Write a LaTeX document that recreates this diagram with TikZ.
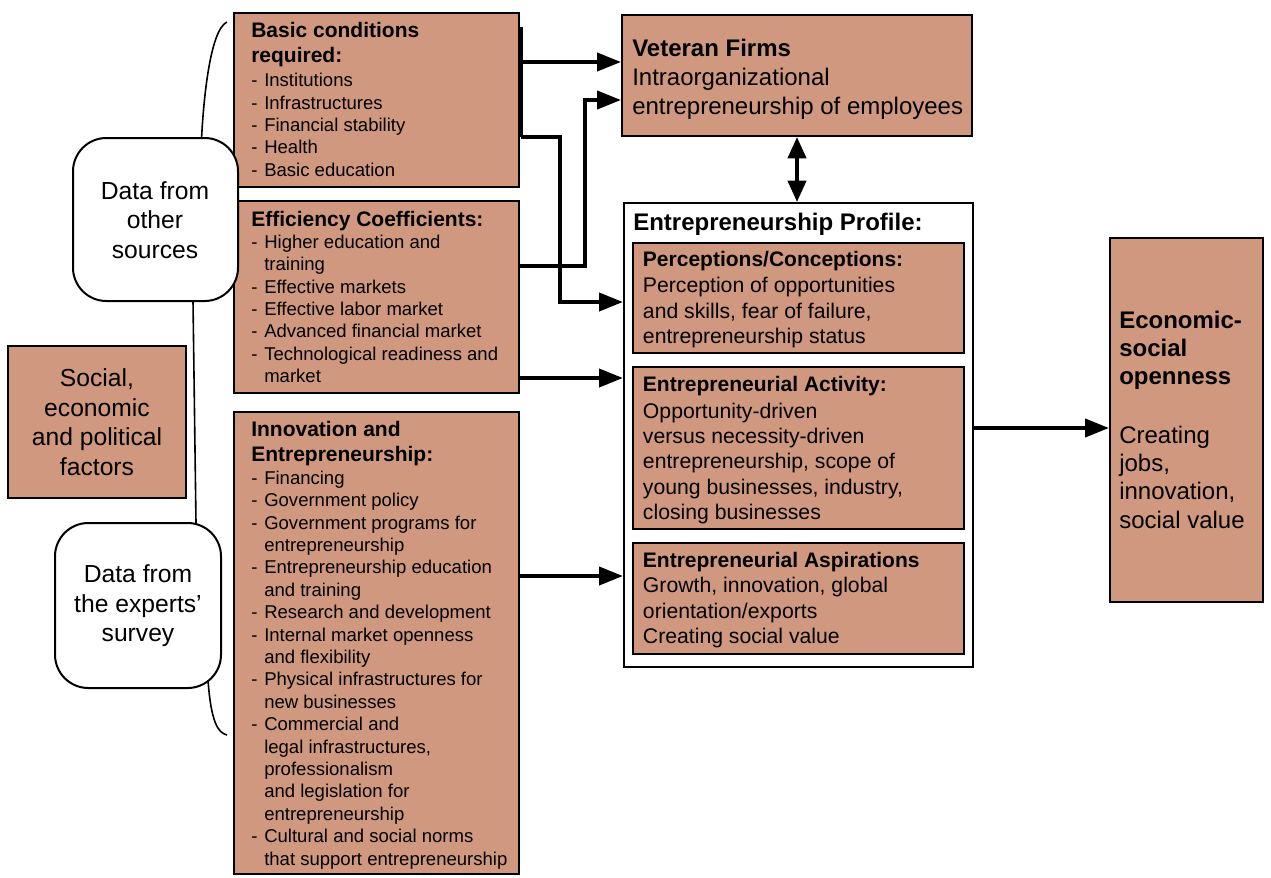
\documentclass[tikz,border=0pt]{standalone}
\usepackage{fontspec}
\setmainfont{Liberation Sans}
\usetikzlibrary{arrows.meta,fit}
\definecolor{boxfill}{RGB}{208,152,126}
\newcommand\myitem{\makebox[9.75pt][l]{-}}
\newcommand\mycont{\makebox[9.75pt]{}}
\newcommand\fSm{\fontsize{13.9}{16.8}\selectfont}
\newcommand\fHd{\fontsize{15.75}{18.75}\selectfont\bfseries}
\newcommand\fMd{\fontsize{15.9}{19}\selectfont}
\newcommand\fBg{\fontsize{18}{21.75}\selectfont}
\newcommand\fEc{\fontsize{18}{21.2}\selectfont}
\newcommand\fLg{\fontsize{18.5}{22.1}\selectfont}
\begin{document}
\begin{tikzpicture}[x=0.75pt,y=-0.75pt,
  box/.style={draw=black, line width=1.5pt, fill=boxfill, inner sep=0pt},
  wbox/.style={draw=black, line width=1.5pt, fill=white, inner sep=0pt},
  rbox/.style={draw=black, line width=1.5pt, fill=white, rounded corners=25pt, inner sep=0pt},
  txt/.style={anchor=base west, inner sep=0pt, align=left},
  ctxt/.style={inner sep=0pt, align=center, font=\fLg},
  conn/.style={line width=3pt},
  arr/.style={line width=3pt, -{Triangle[length=18pt,width=13.5pt]}},
  darr/.style={line width=3pt, {Triangle[length=16pt,width=13.5pt]}-{Triangle[length=16pt,width=13.5pt]}},
  brace/.style={line width=1.2pt}
]
\useasboundingbox (0,0) rectangle (1271,878);

% bracket curve (drawn first, covered by the rounded boxes)
\draw[brace] (227,22) .. controls (210,30) and (203,100) .. (201,150) -- (193,301) -- (196,523) -- (208,680) .. controls (211,722) and (218,733) .. (227,735);

% boxes
\node[box, fit={(234,13) (519,187)}] (basic) {};
\node[box, fit={(234,201) (519,393)}] (eff) {};
\node[box, fit={(234,412) (519,874)}] (innov) {};
\node[box, fit={(622,15) (972,136)}] (vet) {};
\node[wbox, fit={(624,203) (973,667)}] (prof) {};
\node[box, fit={(633,243) (964,353)}] (perc) {};
\node[box, fit={(633,367) (964,529)}] (act) {};
\node[box, fit={(633,543) (964,654)}] (asp) {};
\node[box, fit={(1110,238) (1263,602)}] (econ) {};
\node[box, fit={(8,346) (186,498)}] (social) {};
\node[rbox, fit={(73,138) (238,301)}] (other) {};
\node[rbox, fit={(55,523) (221,688)}] (expert) {};

% texts of left column
\node[ctxt] (otherT) at (155,220) {Data from\\other\\sources};
\node[ctxt] (expertT) at (138,606) {Data from\\the experts’\\survey};
\node[ctxt] (socialT) at (97,422) {Social,\\economic\\and political\\factors};

% (text nodes are placed at the baseline of their LAST line)
% basic conditions
\node[txt, font=\fHd] (basicH) at (251,62.3) {Basic conditions\\required:};
\node[txt, font=\fSm] (basicT) at (251,176.3) {\myitem Institutions\\\myitem Infrastructures\\\myitem Financial stability\\\myitem Health\\\myitem Basic education};

% efficiency
\node[txt, font=\fHd] (effH) at (251,226) {Efficiency Coefficients:};
\node[txt, font=\fSm] (effT) at (251,382.7) {\myitem Higher education and\\\mycont training\\\myitem Effective markets\\\myitem Effective labor market\\\myitem Advanced financial market\\\myitem Technological readiness and\\\mycont market};

% innovation
\node[txt, font=\fHd] (innovH) at (251,461) {Innovation and\\Entrepreneurship:};
\node[txt, font=\fSm] (innovT) at (251,865.1) {\myitem Financing\\\myitem Government policy\\\myitem Government programs for\\\mycont entrepreneurship\\\myitem Entrepreneurship education\\\mycont and training\\\myitem Research and development\\\myitem Internal market openness\\\mycont and flexibility\\\myitem Physical infrastructures for\\\mycont new businesses\\\myitem Commercial and\\\mycont legal infrastructures,\\\mycont professionalism\\\mycont and legislation for\\\mycont entrepreneurship\\\myitem Cultural and social norms\\\mycont that support entrepreneurship};

% veteran firms
\node[txt, font=\fBg\bfseries] (vetH) at (632,56) {Veteran Firms};
\node[txt, font=\fBg] (vetT) at (632,114) {Intraorganizational\\entrepreneurship of employees};

% profile
\node[txt, font=\fBg\bfseries] (profH) at (633,230) {Entrepreneurship Profile:};
\node[txt, font=\fHd] (percH) at (642.7,266.7) {Perceptions/Conceptions:};
\node[txt, font=\fMd] (percT) at (642.7,343.4) {Perception of opportunities\\and skills, fear of failure,\\entrepreneurship status};
\node[txt, font=\fHd] (actH) at (642.7,391.7) {Entrepreneurial Activity:};
\node[txt, font=\fMd] (actT) at (642.7,519.6) {Opportunity-driven\\versus necessity-driven\\entrepreneurship, scope of\\young businesses, industry,\\closing businesses};
\node[txt, font=\fHd] (aspH) at (642.7,567.3) {Entrepreneurial Aspirations};
\node[txt, font=\fMd] (aspT) at (642.7,643.4) {Growth, innovation, global\\orientation/exports\\Creating social value};

% economic
\node[txt, font=\fEc\bfseries] (econH) at (1119,384.8) {Economic-\\social\\openness};
\node[txt, font=\fEc] (econT) at (1119,528.1) {Creating\\jobs,\\innovation,\\social value};

% connectors
\coordinate (bTop) at (521,27);
\coordinate (bBot) at (521,137);
\coordinate (yA) at (0,62);
\coordinate (bend1) at (560,302);
\coordinate (yE) at (0,266);
\coordinate (bend2) at (585,100);
\coordinate (yF) at (0,378);
\coordinate (yG) at (0,576);
\coordinate (yH) at (0,428);

\draw[conn] (bTop) -- (bBot);
\draw[arr] (basic.east |- yA) -- (vet.west |- yA);
\draw[arr] (bBot) -| (bend1) -- (prof.west |- bend1);
\draw[arr] (eff.east |- yE) -| (bend2) -- (vet.west |- bend2);
\draw[arr] (eff.east |- yF) -- (prof.west |- yF);
\draw[arr] (innov.east |- yG) -- (prof.west |- yG);
\draw[darr] (vet.south) -- (vet.south |- prof.north);
\draw[arr] (prof.east |- yH) -- (econ.west |- yH);
\end{tikzpicture}
\end{document}
